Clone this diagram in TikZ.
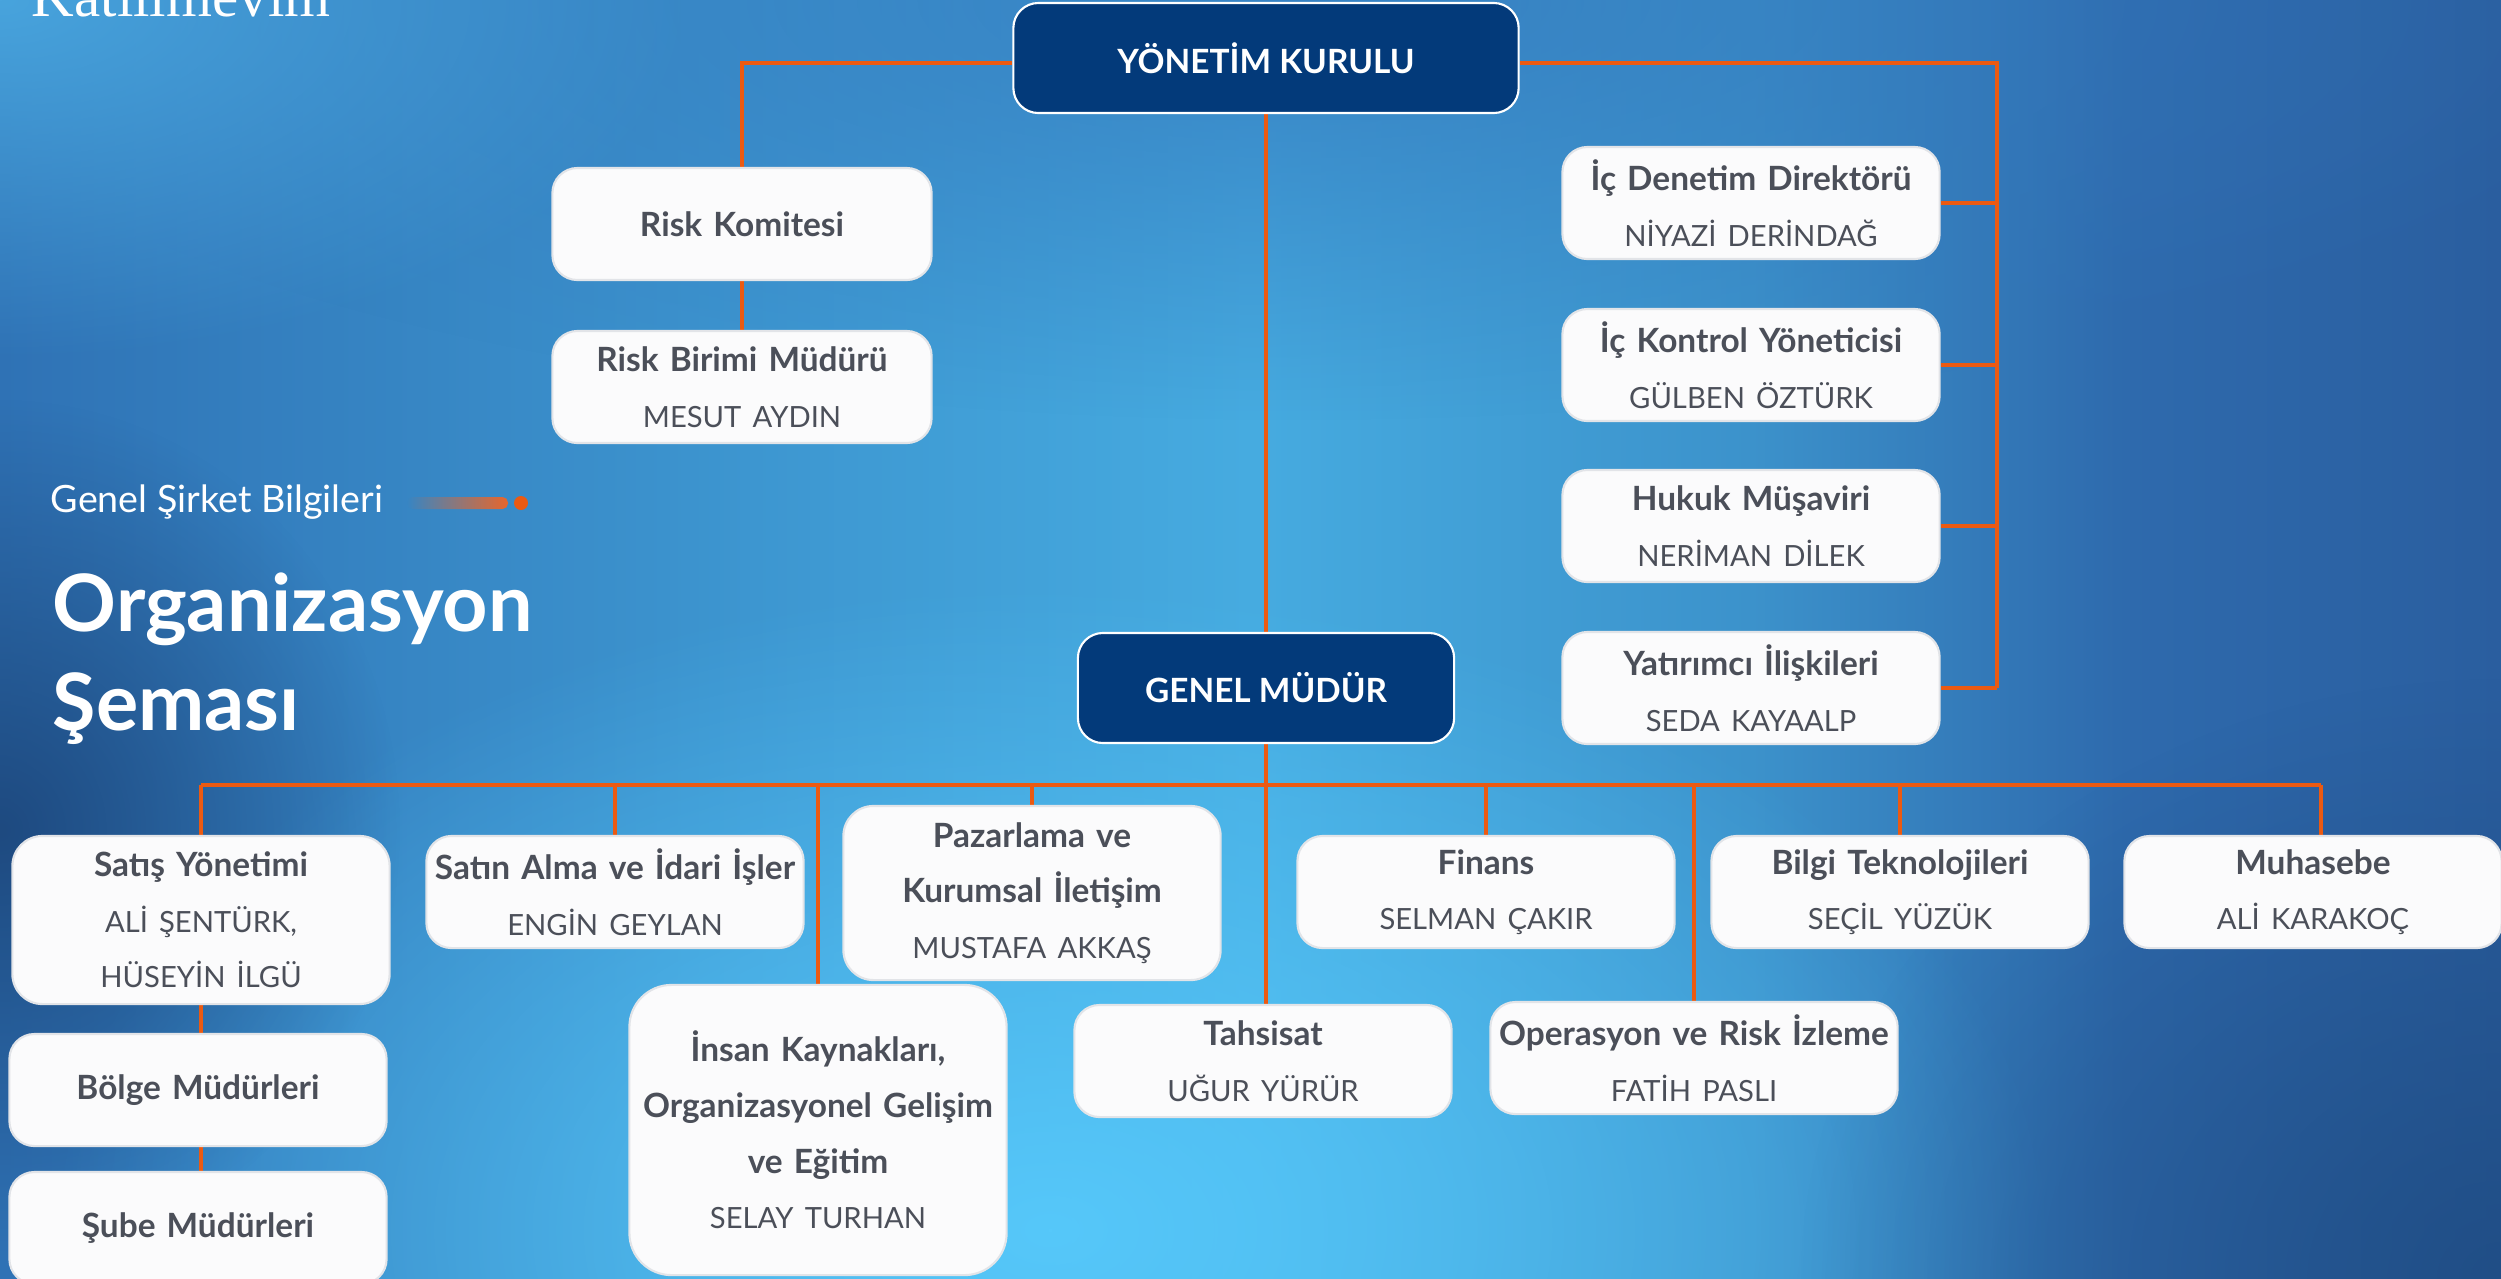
\documentclass[tikz,border=0pt]{standalone}
\usepackage{fontspec}
\setmainfont{Lato}
\newfontfamily\logofont{Liberation Serif}
\usetikzlibrary{positioning}
\usetikzlibrary{fadings}
\usetikzlibrary{backgrounds}

\definecolor{hatturuncu}{HTML}{EB5A12}
\definecolor{cubukturuncu}{HTML}{E8662C}
\definecolor{kartzemin}{HTML}{FBFBFC}
\definecolor{kartcizgi}{HTML}{E2E4E8}
\definecolor{yazigri}{HTML}{4B4F59}
\definecolor{lacivert}{HTML}{033A7A}
\definecolor{zemin0}{HTML}{2F72B5}
\definecolor{zemin1}{HTML}{3D96D0}
\definecolor{zemin2}{HTML}{46ABE0}
\definecolor{zemin3}{HTML}{3C92CB}
\definecolor{zemin4}{HTML}{2E6AAD}
\definecolor{zemin5}{HTML}{2A5E9F}
\definecolor{parlakmavi}{HTML}{56C8FA}
\definecolor{koyumavi}{HTML}{1E4A80}
\definecolor{acikmavi}{HTML}{48A4DD}
\definecolor{ustmavi}{HTML}{3479BD}

\pgfdeclarehorizontalshading{zeminrenk}{100bp}{color(0bp)=(zemin0); color(25bp)=(zemin0);
  color(40bp)=(zemin1); color(50bp)=(zemin2); color(60bp)=(zemin3);
  color(67.5bp)=(zemin4); color(75bp)=(zemin5); color(100bp)=(zemin5)}
\tikzfading[name=parilti, inner color=transparent!0, outer color=transparent!100]
\tikzfading[name=cubuksol, left color=transparent!100, right color=transparent!0]

\pgfdeclarelayer{zemin}
\pgfdeclarelayer{hatlar}
\pgfsetlayers{zemin,hatlar,main}

\newcommand{\isim}[1]{{\fontsize{8.3}{15.8}\selectfont\mdseries #1}}

\begin{document}
\begin{tikzpicture}[x=0.01cm,y=-0.01cm,
    kart/.style={draw=kartcizgi, line width=0.6pt, fill=kartzemin, rounded corners=0.25cm,
      minimum width=3.77cm, minimum height=1.12cm, text width=3.6cm, align=center,
      inner sep=0pt, text=yazigri, font=\fontsize{9.5}{15.8}\selectfont\bfseries},
    koyukart/.style={draw=white, line width=0.6pt, fill=lacivert, rounded corners=0.25cm,
      minimum height=1.1cm, align=center, inner sep=0pt, text=white,
      font=\fontsize{9.5}{12}\selectfont\bfseries},
    hat/.style={draw=hatturuncu, line width=1.15pt}]
  \useasboundingbox (0,0) rectangle (2501,1278);

  % zemin
  \begin{pgfonlayer}{zemin}
    \shade[shading=zeminrenk] (0,0) rectangle (2501,1278);
    \fill[ustmavi, path fading=parilti, opacity=0.8] (1300,0) ellipse (1400 and 420);
    \fill[parlakmavi, path fading=parilti] (1050,1230) ellipse (1000 and 650);
    \fill[koyumavi, path fading=parilti] (0,830) ellipse (400 and 430);
    \fill[acikmavi, path fading=parilti] (0,0) ellipse (700 and 360);
    \fill[koyumavi, path fading=parilti, opacity=0.8] (2501,1278) ellipse (700 and 600);
  \end{pgfonlayer}

  % sol baslik
  \node[anchor=base west, inner sep=0pt, text=white, font=\logofont\fontsize{16.8}{18}\selectfont] (logo) at (31,16) {Katılımevim};
  \node[anchor=base west, inner sep=0pt, text=white, font=\fontsize{10.7}{13}\selectfont] (altbaslik) at (50,512) {Genel Şirket Bilgileri};
  \fill[cubukturuncu, path fading=cubuksol, rounded corners=0.055cm] (407,497) rectangle (508,509);
  \fill[hatturuncu] (521,503) circle [radius=7];
  \node[anchor=north west, inner sep=0pt, text=white, align=left, font=\fontsize{22.5}{28.2}\selectfont\bfseries] (baslik) at (52,572) {Organizasyon\\Şeması};

  % ust kademe
  \node[koyukart, minimum width=5.05cm] (yk) at (1266,58) {YÖNETİM KURULU};
  \node[koyukart, minimum width=3.76cm] (gm) at (1266,688) {GENEL MÜDÜR};

  \node[kart, minimum width=3.79cm] (riskkom) at (742,224) {Risk Komitesi};
  \node[kart, minimum width=3.79cm] (riskbir) at (742,387) {Risk Birimi Müdürü\\\isim{MESUT AYDIN}};

  \node[kart] (icdenetim) at (1751,203) {İç Denetim Direktörü\\\isim{NİYAZİ DERİNDAĞ}};
  \node[kart] (ickontrol) at (1751,365) {İç Kontrol Yöneticisi\\\isim{GÜLBEN ÖZTÜRK}};
  \node[kart] (hukuk) at (1751,526) {Hukuk Müşaviri\\\isim{NERİMAN DİLEK}};
  \node[kart] (yatirimci) at (1751,688) {Yatırımcı İlişkileri\\\isim{SEDA KAYAALP}};

  % alt kademe
  \node[kart, minimum height=1.68cm, rounded corners=0.3cm] (satis) at (201,920) {Satış Yönetimi\\\isim{ALİ ŞENTÜRK,}\\\isim{HÜSEYİN İLGÜ}};
  \node[kart] (bolge) at (198,1090) {Bölge Müdürleri};
  \node[kart] (sube) at (198,1228) {Şube Müdürleri};
  \node[kart] (satinalma) at (615,892) {Satın Alma ve İdari İşler\\\isim{ENGİN GEYLAN}};
  \node[kart, minimum height=1.74cm, rounded corners=0.3cm] (pazarlama) at (1032,893) {Pazarlama ve\\Kurumsal İletişim\\\isim{MUSTAFA AKKAŞ}};
  \node[kart, minimum height=2.9cm, rounded corners=0.42cm] (insan) at (818,1130) {İnsan Kaynakları,\\Organizasyonel Gelişim\\ve Eğitim\\\isim{SELAY TURHAN}};
  \node[kart] (tahsisat) at (1263,1061) {Tahsisat\\\isim{UĞUR YÜRÜR}};
  \node[kart] (finans) at (1486,892) {Finans\\\isim{SELMAN ÇAKIR}};
  \node[kart, minimum width=4.07cm, text width=3.95cm] (operasyon) at (1694,1058) {Operasyon ve Risk İzleme\\\isim{FATİH PASLI}};
  \node[kart] (bilgi) at (1900,892) {Bilgi Teknolojileri\\\isim{SEÇİL YÜZÜK}};
  \node[kart] (muhasebe) at (2313,892) {Muhasebe\\\isim{ALİ KARAKOÇ}};

  \coordinate (sagust) at (1997,63);
  \coordinate (hatsol) at (201,785);
  \coordinate (hatsag) at (2321,785);

  % baglantilar
  \begin{pgfonlayer}{hatlar}
    \draw[hat] ([yshift=-0.05cm]yk.west) -| (riskkom.north);
    \draw[hat] (riskkom) -- (riskbir);
    \draw[hat] (sagust -| yk.east) -- (sagust) -- (sagust |- yatirimci.east);
    \foreach \birim in {icdenetim,ickontrol,hukuk,yatirimci}
      \draw[hat] (\birim.east) -- (\birim.east -| sagust);
    \draw[hat] (yk) -- (gm |- tahsisat.north);
    \draw[hat] (hatsol) -- (hatsag);
    \draw[hat] (hatsol) -- (hatsol |- sube);
    \draw[hat] (hatsag) -- (hatsag |- muhasebe.north);
    \foreach \birim in {satinalma,pazarlama,insan,finans,operasyon,bilgi}
      \draw[hat] (\birim.north |- hatsol) -- (\birim.north);
  \end{pgfonlayer}
\end{tikzpicture}
\end{document}
